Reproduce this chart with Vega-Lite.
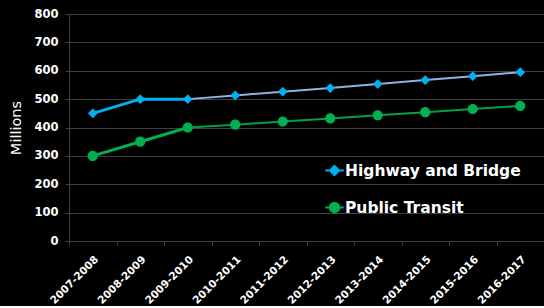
{
  "$schema": "https://vega.github.io/schema/vega-lite/v6.json",
  "width": 475,
  "height": 227,
  "padding": {"left": 8, "top": 8, "right": 0, "bottom": 0},
  "background": "#000000",
  "config": {
    "view": {"stroke": null},
    "font": "DejaVu Sans"
  },
  "data": {
    "values": [
      {"period": "2007-2008", "series": "Highway and Bridge", "value": 450},
      {"period": "2008-2009", "series": "Highway and Bridge", "value": 500},
      {"period": "2009-2010", "series": "Highway and Bridge", "value": 500},
      {"period": "2010-2011", "series": "Highway and Bridge", "value": 513},
      {"period": "2011-2012", "series": "Highway and Bridge", "value": 526},
      {"period": "2012-2013", "series": "Highway and Bridge", "value": 539},
      {"period": "2013-2014", "series": "Highway and Bridge", "value": 553},
      {"period": "2014-2015", "series": "Highway and Bridge", "value": 567},
      {"period": "2015-2016", "series": "Highway and Bridge", "value": 581},
      {"period": "2016-2017", "series": "Highway and Bridge", "value": 595},
      {"period": "2007-2008", "series": "Public Transit", "value": 300},
      {"period": "2008-2009", "series": "Public Transit", "value": 350},
      {"period": "2009-2010", "series": "Public Transit", "value": 400},
      {"period": "2010-2011", "series": "Public Transit", "value": 410},
      {"period": "2011-2012", "series": "Public Transit", "value": 421},
      {"period": "2012-2013", "series": "Public Transit", "value": 432},
      {"period": "2013-2014", "series": "Public Transit", "value": 443},
      {"period": "2014-2015", "series": "Public Transit", "value": 454},
      {"period": "2015-2016", "series": "Public Transit", "value": 465},
      {"period": "2016-2017", "series": "Public Transit", "value": 476}
    ]
  },
  "encoding": {
    "x": {
      "field": "period",
      "type": "nominal",
      "sort": ["2007-2008", "2008-2009", "2009-2010", "2010-2011", "2011-2012", "2012-2013", "2013-2014", "2014-2015", "2015-2016", "2016-2017"],
      "scale": {"type": "band", "paddingInner": 0, "paddingOuter": 0},
      "axis": {
        "title": null,
        "labelAngle": -45,
        "labelFontWeight": "bold",
        "labelFontSize": 10.5,
        "labelColor": "#ffffff",
        "tickBand": "extent",
        "domainColor": "#404040",
        "tickColor": "#404040",
        "tickSize": 4,
        "labelPadding": 9,
        "grid": false
      }
    },
    "y": {
      "field": "value",
      "type": "quantitative",
      "scale": {"domain": [0, 800], "nice": false},
      "axis": {
        "title": "Millions",
        "titleColor": "#ffffff",
        "titleFontWeight": "normal",
        "titleFontSize": 14.5,
        "titlePadding": 10,
        "values": [0, 100, 200, 300, 400, 500, 600, 700, 800],
        "labelFontWeight": "bold",
        "labelFontSize": 11.5,
        "labelColor": "#ffffff",
        "labelPadding": 7,
        "grid": true,
        "gridColor": "#404040",
        "domainColor": "#404040",
        "tickColor": "#404040",
        "tickSize": 4
      }
    }
  },
  "layer": [
    {
      "transform": [
        {"filter": {"not": {"field": "period", "oneOf": ["2007-2008", "2008-2009"]}}},
        {"filter": {"field": "series", "equal": "Highway and Bridge"}}
      ],
      "mark": {"type": "line", "strokeWidth": 2, "color": "#8DB4E2"},
      "encoding": {}
    },
    {
      "transform": [
        {"filter": {"not": {"field": "period", "oneOf": ["2007-2008", "2008-2009"]}}},
        {"filter": {"field": "series", "equal": "Public Transit"}}
      ],
      "mark": {"type": "line", "strokeWidth": 2, "color": "#00A04A"},
      "encoding": {}
    },
    {
      "transform": [{"filter": {"field": "period", "oneOf": ["2007-2008", "2008-2009", "2009-2010"]}}],
      "mark": {"type": "line", "strokeWidth": 3},
      "encoding": {
        "color": {
          "field": "series",
          "type": "nominal",
          "scale": {"domain": ["Highway and Bridge", "Public Transit"], "range": ["#00B0F0", "#00B050"]}
        }
      }
    },
    {
      "mark": {"type": "point", "filled": true, "opacity": 1, "size": 380},
      "encoding": {
        "color": {
          "field": "series",
          "type": "nominal",
          "scale": {"domain": ["Highway and Bridge", "Public Transit"], "range": ["#00B0F0", "#00B050"]},
          "legend": {
            "title": null,
            "orient": "none",
            "legendX": 255,
            "legendY": 146,
            "padding": 0,
            "labelColor": "#ffffff",
            "labelFontWeight": "bold",
            "labelFontSize": 15.5,
            "labelOffset": 0,
            "labelLimit": 400,
            "symbolSize": 340,
            "symbolStrokeWidth": 2,
            "rowPadding": 17,
            "encode": {
              "symbols": {
                "stroke": {
                  "condition": {"test": "datum.value === 'Public Transit'", "value": "#00B050"},
                  "value": "#00B0F0"
                },
                "strokeWidth": {"value": 2}
              }
            }
          }
        },
        "shape": {
          "field": "series",
          "type": "nominal",
          "scale": {
            "domain": ["Highway and Bridge", "Public Transit"],
            "range": [
              "M-1,0L1,0M0,-0.5L0.5,0L0,0.5L-0.5,0Z",
              "M-1,0L1,0M-0.52,0A0.52,0.52,0,1,1,0.52,0A0.52,0.52,0,1,1,-0.52,0Z"
            ]
          }
        }
      }
    }
  ]
}
